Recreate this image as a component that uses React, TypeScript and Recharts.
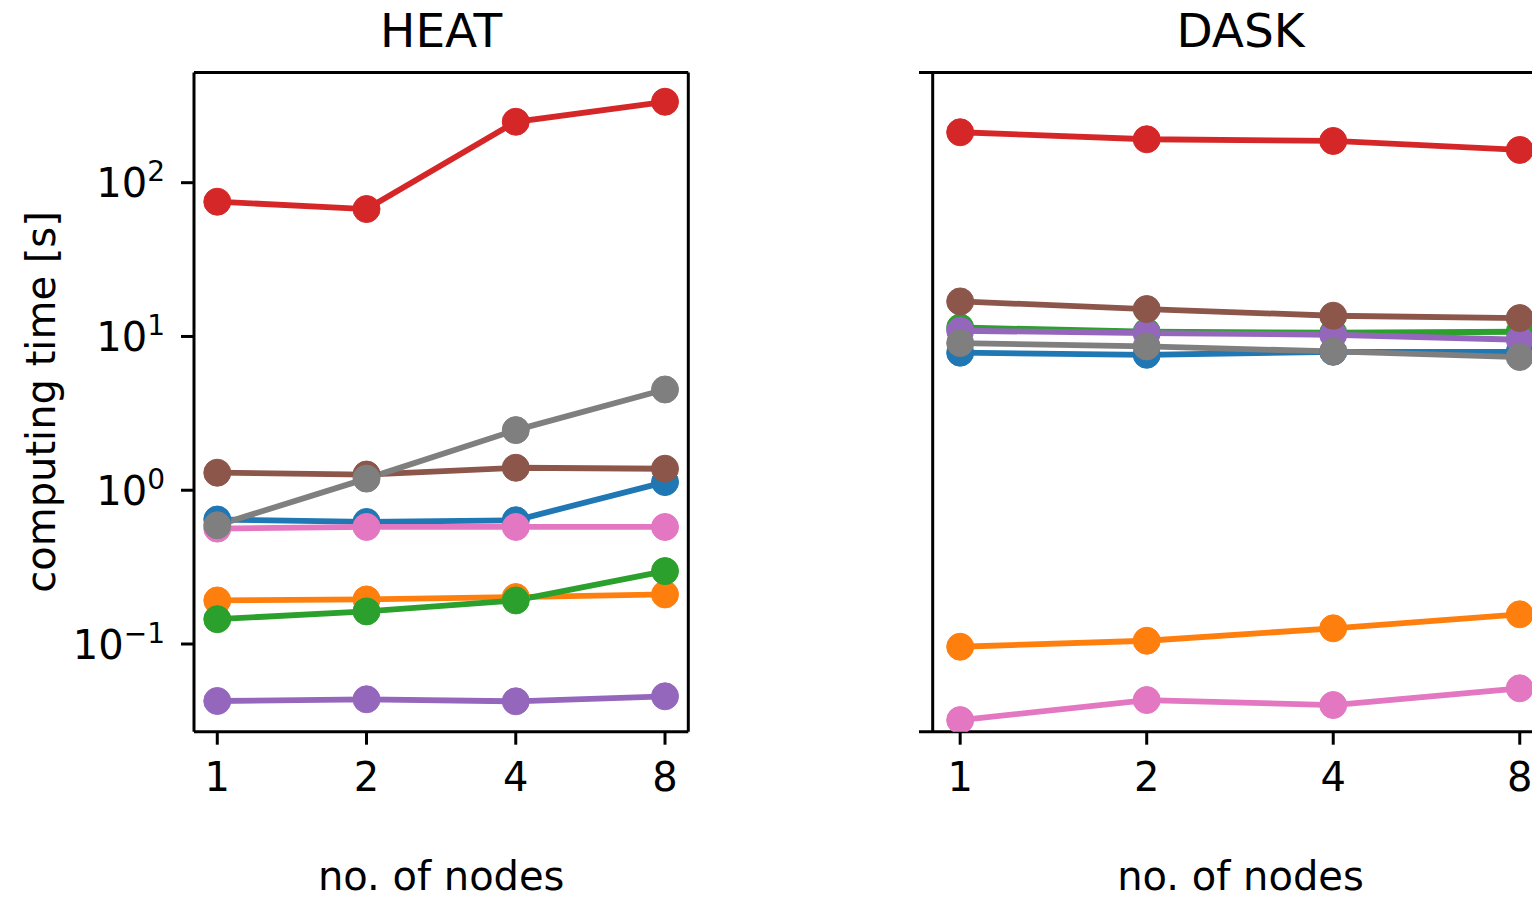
import React from 'react';
import { LineChart, Line, XAxis, YAxis, ReferenceLine } from 'recharts';

// ---- data ----
const nodes = [1, 2, 4, 8];
const yTicks = [0.1, 1, 10, 100];
const panelTitles = ['HEAT', 'DASK'];
const xLabel = 'no. of nodes';
const yLabel = 'computing time [s]';

const seriesKeys = ['c0', 'c1', 'c2', 'c3', 'c4', 'c5', 'c6', 'c7'];
const seriesColors = ['#1f77b4', '#ff7f0e', '#2ca02c', '#d62728', '#9467bd', '#8c564b', '#e377c2', '#7f7f7f'];

const heatBlue = [0.645, 0.622, 0.638, 1.13];
const heatOrange = [0.192, 0.195, 0.202, 0.21];
const heatGreen = [0.145, 0.163, 0.192, 0.298];
const heatRed = [75.2, 67.4, 249, 336];
const heatPurple = [0.0426, 0.0437, 0.0424, 0.0457];
const heatBrown = [1.3, 1.265, 1.4, 1.38];
const heatPink = [0.563, 0.577, 0.577, 0.577];
const heatGray = [0.592, 1.19, 2.46, 4.52];

const daskBlue = [7.84, 7.6, 7.95, 7.95];
const daskOrange = [0.096, 0.105, 0.1265, 0.156];
const daskGreen = [11.44, 10.73, 10.57, 10.73];
const daskRed = [212.8, 191.6, 186.8, 163.3];
const daskPurple = [10.89, 10.52, 10.26, 9.52];
const daskBrown = [16.9, 15.08, 13.64, 13.17];
const daskPink = [0.032, 0.0432, 0.0401, 0.0515];
const daskGray = [9.06, 8.61, 7.99, 7.35];

const heatSeries = [heatBlue, heatOrange, heatGreen, heatRed, heatPurple, heatBrown, heatPink, heatGray];
const daskSeries = [daskBlue, daskOrange, daskGreen, daskRed, daskPurple, daskBrown, daskPink, daskGray];

function buildRows(series: number[][]) {
  return nodes.map((n, i) => {
    const row: Record<string, number> = { nodes: n };
    series.forEach((s, k) => {
      row[seriesKeys[k]] = s[i];
    });
    return row;
  });
}

const heatRows = buildRows(heatSeries);
const daskRows = buildRows(daskSeries);

// ---- styling ----
const FONT = 'DejaVu Sans';
const Y_DOMAIN: [number, number] = [0.0269, 520.7];
const HEAT_X_DOMAIN: [number, number] = [0.8975, 8.914];
const DASK_X_DOMAIN: [number, number] = [0.8581, 9.36];
const DASK_DIVIDER_X = 0.9029;
const SPINE = { stroke: '#000', strokeWidth: 3 };

const XTick = (props: any) => {
  const { x, y, payload } = props;
  return (
    <text x={x} y={y} dy={29} textAnchor="middle" fontSize={40} fontFamily={FONT} fill="#000">
      {payload.value}
    </text>
  );
};

const YTick = (props: any) => {
  const { x, y, payload } = props;
  const exp = Math.round(Math.log10(payload.value));
  const expStr = exp < 0 ? '\u2212' + String(-exp) : String(exp);
  return (
    <text x={x} y={y + 14.5} textAnchor="end" fontSize={40} fontFamily={FONT} fill="#000">
      10
      <tspan dy={-16} fontSize={28}>
        {expStr}
      </tspan>
    </text>
  );
};

function renderLines() {
  return seriesKeys.map((key, k) => (
    <Line
      key={key}
      dataKey={key}
      stroke={seriesColors[k]}
      strokeWidth={5.8}
      dot={{ r: 13.5, fill: seriesColors[k], stroke: seriesColors[k], strokeWidth: 1 }}
      activeDot={false}
      isAnimationActive={false}
    />
  ));
}

const HeatChart = () => (
  <LineChart
    width={700}
    height={898}
    data={heatRows}
    margin={{ top: 72.5, right: 11.7, bottom: 96.3, left: 0 }}
  >
    <XAxis
      dataKey="nodes"
      type="number"
      scale="log"
      domain={HEAT_X_DOMAIN}
      allowDataOverflow
      ticks={nodes}
      interval={0}
      height={70}
      tickSize={13}
      tickMargin={17}
      axisLine={SPINE}
      tickLine={SPINE}
      tick={<XTick />}
    />
    <YAxis
      type="number"
      scale="log"
      domain={Y_DOMAIN}
      allowDataOverflow
      ticks={yTicks}
      interval={0}
      width={194}
      tickSize={13}
      tickMargin={16}
      axisLine={SPINE}
      tickLine={SPINE}
      tick={<YTick />}
    />
    <ReferenceLine y={Y_DOMAIN[1]} stroke="#000" strokeWidth={3} ifOverflow="visible" />
    <ReferenceLine x={HEAT_X_DOMAIN[1]} stroke="#000" strokeWidth={3} ifOverflow="visible" />
    {renderLines()}
  </LineChart>
);

const DaskChart = () => (
  <LineChart
    width={700}
    height={898}
    data={daskRows}
    margin={{ top: 72.5, right: 18, bottom: 96.3, left: 39 }}
  >
    <XAxis
      dataKey="nodes"
      type="number"
      scale="log"
      domain={DASK_X_DOMAIN}
      allowDataOverflow
      ticks={nodes}
      interval={0}
      height={70}
      tickSize={13}
      tickMargin={17}
      axisLine={SPINE}
      tickLine={SPINE}
      tick={<XTick />}
    />
    <YAxis type="number" scale="log" domain={Y_DOMAIN} allowDataOverflow hide />
    <ReferenceLine y={Y_DOMAIN[1]} stroke="#000" strokeWidth={3} ifOverflow="visible" />
    <ReferenceLine x={DASK_X_DOMAIN[1]} stroke="#000" strokeWidth={3} ifOverflow="visible" />
    <ReferenceLine x={DASK_DIVIDER_X} stroke="#000" strokeWidth={3} ifOverflow="visible" />
    {renderLines()}
  </LineChart>
);

export default function App() {
  return (
    <div
      style={{
        position: 'absolute',
        left: 0,
        top: 0,
        width: 1532,
        height: 898,
        overflow: 'hidden',
        background: '#fff',
        fontFamily: FONT,
      }}
    >
      <div style={{ position: 'absolute', left: 0, top: 0 }}>
        <HeatChart />
      </div>
      <div style={{ position: 'absolute', left: 880, top: 0 }}>
        <DaskChart />
      </div>
      <svg
        width={1532}
        height={898}
        style={{ position: 'absolute', left: 0, top: 0, pointerEvents: 'none' }}
      >
        <text x={441.2} y={47} textAnchor="middle" fontSize={47} fontFamily={FONT} fill="#000">
          {panelTitles[0]}
        </text>
        <text x={1240.5} y={47} textAnchor="middle" fontSize={47} fontFamily={FONT} fill="#000">
          {panelTitles[1]}
        </text>
        <text x={441.2} y={890} textAnchor="middle" fontSize={40} fontFamily={FONT} fill="#000">
          {xLabel}
        </text>
        <text x={1240.5} y={890} textAnchor="middle" fontSize={40} fontFamily={FONT} fill="#000">
          {xLabel}
        </text>
        <text
          x={55}
          y={402}
          transform="rotate(-90, 55, 402)"
          textAnchor="middle"
          fontSize={40}
          fontFamily={FONT}
          fill="#000"
        >
          {yLabel}
        </text>
      </svg>
    </div>
  );
}
